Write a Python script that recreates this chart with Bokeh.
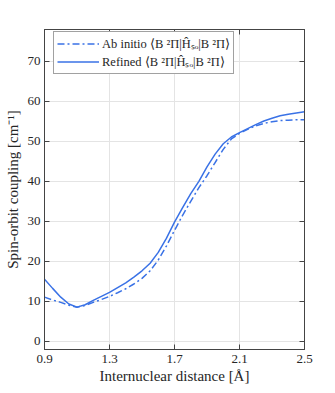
from bokeh.plotting import figure
from bokeh.models import LinearAxis, FixedTicker, CustomJSTickFormatter, Legend, LegendItem, Range1d
from bokeh.embed import file_html
from bokeh.resources import INLINE

# data
r_abinitio = [0.90, 0.95, 1.00, 1.05, 1.10, 1.15, 1.20, 1.25, 1.30, 1.35, 1.40, 1.45, 1.50, 1.55, 1.60, 1.65,
              1.70, 1.75, 1.80, 1.85, 1.90, 1.95, 2.00, 2.05, 2.10, 2.15, 2.20, 2.25, 2.30, 2.35, 2.40, 2.45, 2.50]
so_abinitio = [11.0, 10.3, 9.7, 9.0, 8.5, 8.9, 9.7, 10.4, 11.2, 12.1, 13.1, 14.3, 15.7, 17.6, 20.3, 23.8,
               27.7, 31.5, 35.0, 38.4, 41.4, 44.7, 48.0, 50.6, 52.0, 53.0, 53.9, 54.5, 54.9, 55.2, 55.3, 55.4, 55.4]
r_refined = [0.90, 0.95, 1.00, 1.05, 1.10, 1.15, 1.20, 1.25, 1.30, 1.35, 1.40, 1.45, 1.50, 1.55, 1.60, 1.65,
             1.70, 1.75, 1.80, 1.85, 1.90, 1.95, 2.00, 2.05, 2.10, 2.15, 2.20, 2.25, 2.30, 2.35, 2.40, 2.45, 2.50]
so_refined = [15.5, 13.2, 11.0, 9.3, 8.5, 9.1, 10.2, 11.2, 12.2, 13.4, 14.6, 16.0, 17.6, 19.5, 22.2, 25.7,
              29.8, 33.4, 36.9, 40.0, 43.6, 46.8, 49.4, 51.1, 52.2, 53.2, 54.2, 55.1, 55.8, 56.4, 56.8, 57.1, 57.4]
x_ticks = [0.9, 1.3, 1.7, 2.1, 2.5]
y_ticks = [0, 10, 20, 30, 40, 50, 60, 70]
label_abinitio = "Ab initio \u27e8B \u00b2\u03a0|\u0124\u209b\u2092|B \u00b2\u03a0\u27e9"
label_refined = "Refined \u27e8B \u00b2\u03a0|\u0124\u209b\u2092|B \u00b2\u03a0\u27e9"

BLUE = "#3a72e6"
FONT = "Liberation Serif"
AX = "#444444"
TXT = "#262626"

p = figure(width=335, height=393, output_backend="svg", toolbar_location=None,
           x_range=Range1d(0.9, 2.5), y_range=Range1d(-2.1, 78.0),
           min_border_left=44, min_border_right=31, min_border_top=29, min_border_bottom=44)

l1 = p.line(r_abinitio, so_abinitio, line_color=BLUE, line_width=1.5, line_dash="7 3 2 3")
l2 = p.line(r_refined, so_refined, line_color=BLUE, line_width=1.5)

for ax in (p.xaxis[0], p.yaxis[0]):
    ax.major_tick_in = 5
    ax.major_tick_out = 0
    ax.minor_tick_line_color = None
    ax.axis_line_color = AX
    ax.major_tick_line_color = AX
    ax.major_label_text_font = FONT
    ax.major_label_text_font_size = "13px"
    ax.major_label_text_color = TXT
    ax.axis_label_text_font = FONT
    ax.axis_label_text_font_size = "15px"
    ax.axis_label_text_font_style = "normal"
    ax.axis_label_text_color = TXT

p.xaxis.ticker = FixedTicker(ticks=x_ticks)
p.yaxis.ticker = FixedTicker(ticks=y_ticks)
p.xaxis.axis_label = "Internuclear distance [\u00c5]"
p.yaxis.axis_label = "Spin-orbit coupling [cm\u207b\u00b9]"
p.xaxis.major_label_standoff = 5
p.yaxis.major_label_standoff = 4
p.xaxis.axis_label_standoff = 2
p.yaxis.axis_label_standoff = 4

blank = CustomJSTickFormatter(code="return ''")
top = LinearAxis(ticker=FixedTicker(ticks=x_ticks), formatter=blank, major_tick_in=5, major_tick_out=0,
                 minor_tick_line_color=None, axis_line_color=AX, major_tick_line_color=AX,
                 major_label_standoff=0)
right = LinearAxis(ticker=FixedTicker(ticks=y_ticks), formatter=blank, major_tick_in=5, major_tick_out=0,
                   minor_tick_line_color=None, axis_line_color=AX, major_tick_line_color=AX,
                   major_label_standoff=0)
p.add_layout(top, "above")
p.add_layout(right, "right")

p.xgrid.ticker = FixedTicker(ticks=x_ticks)
p.ygrid.ticker = FixedTicker(ticks=y_ticks)
p.grid.grid_line_color = "#e4e4e4"
p.grid.grid_line_width = 1
p.outline_line_color = AX

legend = Legend(items=[LegendItem(label=label_abinitio, renderers=[l1]),
                       LegendItem(label=label_refined, renderers=[l2])],
                location=(9, 275))
legend.label_text_font = FONT
legend.label_text_font_size = "12.5px"
legend.label_text_color = TXT
legend.glyph_width = 42
legend.glyph_height = 13
legend.label_height = 13
legend.label_standoff = 3
legend.spacing = 1
legend.padding = 3
legend.margin = 0
legend.border_line_color = AX
legend.border_line_width = 1
legend.background_fill_alpha = 1.0
p.add_layout(legend, "center")

open("out.html", "w").write(file_html(p, INLINE))
